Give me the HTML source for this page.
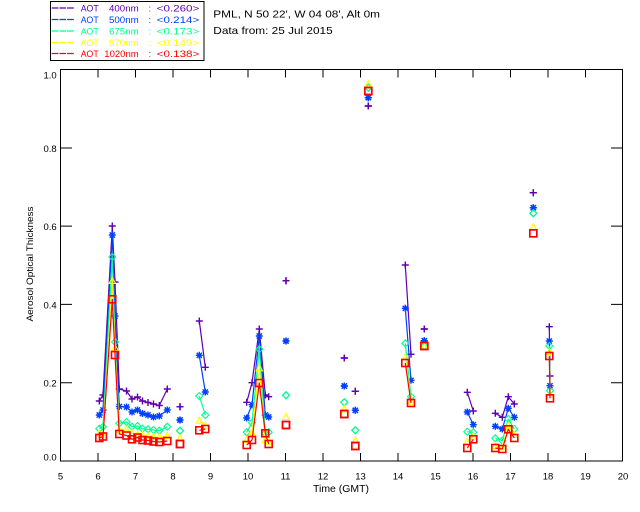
<!DOCTYPE html>
<html>
<head>
<meta charset="utf-8">
<style>
html,body{margin:0;padding:0;background:#fff;}
svg{display:block;}
text{font-family:"Liberation Sans",sans-serif;}
</style>
</head>
<body>
<svg width="640" height="512" viewBox="0 0 640 512" xmlns="http://www.w3.org/2000/svg">
<defs>
<marker id="mp" viewBox="-6 -6 12 12" markerWidth="12" markerHeight="12" refX="0" refY="0" markerUnits="userSpaceOnUse" overflow="visible"><path d="M-3.5 0H3.5M0 -3.5V3.5" stroke="#6000b0" stroke-width="1.4" fill="none"/></marker>
<marker id="mb" viewBox="-6 -6 12 12" markerWidth="12" markerHeight="12" refX="0" refY="0" markerUnits="userSpaceOnUse" overflow="visible"><path d="M-3.5 0H3.5M0 -3.5V3.5M-2.6 -2.6L2.6 2.6M-2.6 2.6L2.6 -2.6" stroke="#0040ff" stroke-width="1.4" fill="none"/></marker>
<marker id="mg" viewBox="-6 -6 12 12" markerWidth="12" markerHeight="12" refX="0" refY="0" markerUnits="userSpaceOnUse" overflow="visible"><path d="M0 -3.5L3.5 0L0 3.5L-3.5 0Z" stroke="#00ff90" stroke-width="1.1" fill="none"/></marker>
<marker id="my" viewBox="-6 -6 12 12" markerWidth="12" markerHeight="12" refX="0" refY="0" markerUnits="userSpaceOnUse" overflow="visible"><path d="M0 -3.5L3.2 2.5H-3.2Z" stroke="#ffff00" stroke-width="1.1" fill="none"/></marker>
<marker id="mr" viewBox="-6 -6 12 12" markerWidth="12" markerHeight="12" refX="0" refY="0" markerUnits="userSpaceOnUse" overflow="visible"><rect x="-3.5" y="-3.5" width="7" height="7" stroke="#ff0000" stroke-width="1.6" fill="none"/></marker>
</defs>

<!-- Legend box -->
<rect x="50.5" y="1.5" width="153.5" height="59" fill="none" stroke="#000" stroke-width="1"/>
<g stroke-width="1.2" stroke-dasharray="6.7,1">
<line x1="51.7" y1="8" x2="74" y2="8" stroke="#6000b0"/>
<line x1="51.7" y1="19.5" x2="74" y2="19.5" stroke="#0040ff"/>
<line x1="51.7" y1="31" x2="74" y2="31" stroke="#00ff90"/>
<line x1="51.7" y1="42.5" x2="74" y2="42.5" stroke="#ffff00"/>
<line x1="51.7" y1="53.5" x2="74" y2="53.5" stroke="#ff0000"/>
</g>
<g font-size="9.5">
<g fill="#6000b0">
<text x="80.7" y="11.5" textLength="18" lengthAdjust="spacingAndGlyphs">AOT</text>
<text x="109" y="11.5" textLength="29.7" lengthAdjust="spacingAndGlyphs">400nm</text>
<text x="148.5" y="11.5">:</text>
<text x="156.7" y="11.5" textLength="42.6" lengthAdjust="spacingAndGlyphs">&lt;0.260&gt;</text>
</g>
<g fill="#0040ff">
<text x="80.7" y="23" textLength="18" lengthAdjust="spacingAndGlyphs">AOT</text>
<text x="109" y="23" textLength="29.7" lengthAdjust="spacingAndGlyphs">500nm</text>
<text x="148.5" y="23">:</text>
<text x="156.7" y="23" textLength="42.6" lengthAdjust="spacingAndGlyphs">&lt;0.214&gt;</text>
</g>
<g fill="#00ff90">
<text x="80.7" y="34.5" textLength="18" lengthAdjust="spacingAndGlyphs">AOT</text>
<text x="109" y="34.5" textLength="29.7" lengthAdjust="spacingAndGlyphs">675nm</text>
<text x="148.5" y="34.5">:</text>
<text x="156.7" y="34.5" textLength="42.6" lengthAdjust="spacingAndGlyphs">&lt;0.173&gt;</text>
</g>
<g fill="#ffff00">
<text x="80.7" y="46" textLength="18" lengthAdjust="spacingAndGlyphs">AOT</text>
<text x="109" y="46" textLength="29.7" lengthAdjust="spacingAndGlyphs">870nm</text>
<text x="148.5" y="46">:</text>
<text x="156.7" y="46" textLength="42.6" lengthAdjust="spacingAndGlyphs">&lt;0.149&gt;</text>
</g>
<g fill="#ff0000">
<text x="80.7" y="57" textLength="18" lengthAdjust="spacingAndGlyphs">AOT</text>
<text x="104.3" y="57" textLength="34.4" lengthAdjust="spacingAndGlyphs">1020nm</text>
<text x="148.5" y="57">:</text>
<text x="156.7" y="57" textLength="42.6" lengthAdjust="spacingAndGlyphs">&lt;0.138&gt;</text>
</g>
</g>

<!-- Title text -->
<g font-size="10.5" fill="#000">
<text x="213.3" y="17.5" textLength="166.7" lengthAdjust="spacingAndGlyphs">PML, N 50 22', W 04 08', Alt 0m</text>
<text x="213.3" y="34" textLength="119.4" lengthAdjust="spacingAndGlyphs">Data from: 25 Jul 2015</text>
</g>

<!-- Axes box -->
<rect x="60.5" y="69.5" width="562" height="391.5" fill="none" stroke="#000" stroke-width="1"/>
<g stroke="#000" stroke-width="1">
<path d="M98 461V453M135.5 461V453M173 461V453M210.5 461V453M248 461V453M285.5 461V453M323 461V453M360.5 461V453M398 461V453M435.5 461V453M473 461V453M510.5 461V453M548 461V453M585.5 461V453"/>
<path d="M98 69.5V77.5M135.5 69.5V77.5M173 69.5V77.5M210.5 69.5V77.5M248 69.5V77.5M285.5 69.5V77.5M323 69.5V77.5M360.5 69.5V77.5M398 69.5V77.5M435.5 69.5V77.5M473 69.5V77.5M510.5 69.5V77.5M548 69.5V77.5M585.5 69.5V77.5"/>
<path d="M60.5 148H72M60.5 226.1H72M60.5 304.4H72M60.5 382.7H72"/>
<path d="M622.5 148H611M622.5 226.1H611M622.5 304.4H611M622.5 382.7H611"/>
</g>

<!-- Tick labels -->
<g font-size="9.5" fill="#000" text-anchor="middle">
<text x="60.5" y="479.5">5</text>
<text x="98" y="479.5">6</text>
<text x="135.5" y="479.5">7</text>
<text x="173" y="479.5">8</text>
<text x="210.5" y="479.5">9</text>
<text x="248" y="479.5">10</text>
<text x="285.5" y="479.5">11</text>
<text x="323" y="479.5">12</text>
<text x="360.5" y="479.5">13</text>
<text x="398" y="479.5">14</text>
<text x="435.5" y="479.5">15</text>
<text x="473" y="479.5">16</text>
<text x="510.5" y="479.5">17</text>
<text x="548" y="479.5">18</text>
<text x="585.5" y="479.5">19</text>
<text x="623" y="479.5">20</text>
</g>
<g font-size="9.5" fill="#000" text-anchor="end">
<text x="56.7" y="78.3">1.0</text>
<text x="56.7" y="152">0.8</text>
<text x="56.7" y="230.1">0.6</text>
<text x="56.7" y="308.4">0.4</text>
<text x="56.7" y="386.7">0.2</text>
<text x="56.7" y="460.5">0.0</text>
</g>
<text x="341" y="492" font-size="10" text-anchor="middle" fill="#000" textLength="56" lengthAdjust="spacingAndGlyphs">Time (GMT)</text>
<text transform="translate(33,264) rotate(-90)" font-size="9.5" text-anchor="middle" fill="#000" textLength="115" lengthAdjust="spacingAndGlyphs">Aerosol Optical Thickness</text>

<!-- Series -->
<g fill="none" stroke-width="1.2" stroke-linejoin="round">
<path stroke="#6000b0" marker-start="url(#mp)" marker-mid="url(#mp)" marker-end="url(#mp)" d="M99.3 401L103 395L112.3 226L115 282L119.3 389L126.5 391L132 399L137.5 397L142.5 401L148 402.5L153.5 404L159.3 405.5L167.3 389M180 406.7h0M199.3 321L205.3 367.3M246.7 402.3L252 382.7L259.3 329L265.3 395L268.7 396.7M286 280.7h0M344.3 358h0M355.3 391.3h0M368.3 106h0M405.3 265L411 354.3M424.3 329h0M467.3 392.3L473.3 411M495.3 413.3L502.3 417.3L508.3 396.7L514.3 404M533.3 192.7h0M549.3 326.7L550 376"/>
<path stroke="#0040ff" marker-start="url(#mb)" marker-mid="url(#mb)" marker-end="url(#mb)" d="M99.3 415L103 410L112.3 235L115 316L119.3 406.5L126.5 407L132 412L137.5 410L142.5 413.5L148 415L153.5 417L159.3 416L167.3 410M180 420h0M199.3 355.3L205.3 392M246.7 418L252 404.7L259.3 336L265.3 415L268.7 417M286 341h0M344.3 386h0M355.3 410.3h0M368.3 97.7h0M405.3 308.3L411 380.3M424.3 340.7h0M467.3 412L473.3 424.7M495.3 426.3L502.3 429L508.3 408.3L514.3 417.3M533.3 207.7h0M549.3 341L550 385.7"/>
<path stroke="#00ff90" marker-start="url(#mg)" marker-mid="url(#mg)" marker-end="url(#mg)" d="M99.3 428.7L103 426.7L112.3 257L115 342L119.3 423.3L126.5 422L132 426.7L137.5 426L142.5 428.7L148 429.3L153.5 430L159.3 430.7L167.3 426.7M180 430.7h0M199.3 396L205.3 415M246.7 432.3L252 422.7L259.3 349.3L265.3 433.3L268.7 432.3M286 395.3h0M344.3 402.3h0M355.3 430.3h0M368.3 87.7h0M405.3 343.3L411 396.7M424.3 346h0M467.3 431.7L473.3 432.3M495.3 438.3L502.3 440.7L508.3 419L514.3 429M533.3 213.3h0M549.3 346L550 390.7"/>
<path stroke="#ffff00" marker-start="url(#my)" marker-mid="url(#my)" marker-end="url(#my)" d="M99.3 433.3L103 435L112.3 281L115 348L119.3 430L126.5 430L132 433.3L137.5 434.3L142.5 435L148 436L153.5 436.7L159.3 437.3L167.3 436M180 438.3h0M199.3 420.7L205.3 425.7M246.7 440L252 432.7L259.3 368.3L265.3 440L268.7 441.7M286 417h0M344.3 409.3h0M355.3 440.7h0M368.3 84.3h0M405.3 357.3L411 401.7M424.3 346.7h0M467.3 441.7L473.3 436.7M495.3 446L502.3 447.3L508.3 426L514.3 435M533.3 227.3h0M549.3 352L550 395"/>
<path stroke="#ff0000" marker-start="url(#mr)" marker-mid="url(#mr)" marker-end="url(#mr)" d="M99.3 438L103 436.5L112.3 299.3L115 355L119.3 434L126.5 435.5L132 439.3L137.5 437.5L142.5 440L148 440.5L153.5 441.5L159.3 442L167.3 441M180 444h0M199.3 430.3L205.3 429M246.7 445L252 440L259.3 383L265.3 433.3L268.7 444M286 425h0M344.3 414h0M355.3 446h0M368.3 91h0M405.3 363L411 403M424.3 346h0M467.3 448L473.3 439.3M495.3 448L502.3 449L508.3 429.3L514.3 438M533.3 233.3h0M549.3 356L550 398.3"/>
</g>
</svg>
</body>
</html>
